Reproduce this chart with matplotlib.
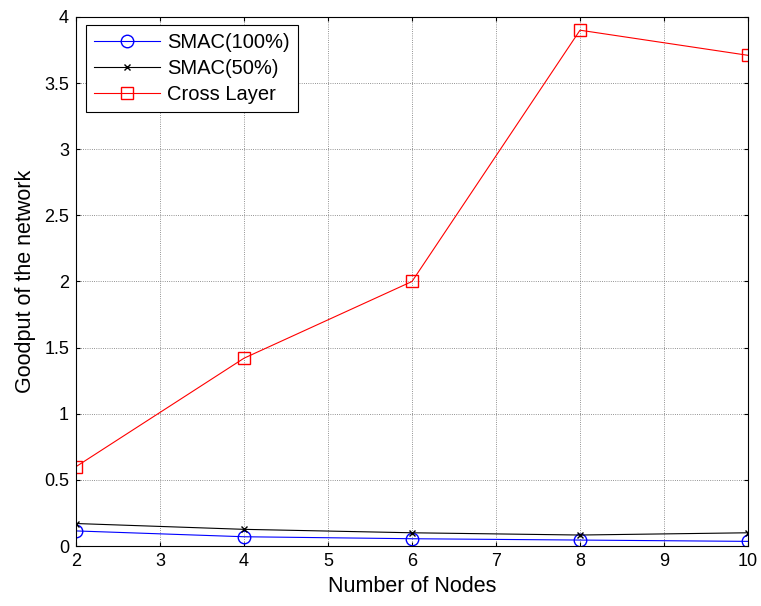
import matplotlib
matplotlib.use("Agg")
import matplotlib.pyplot as plt

plt.rcParams['font.family'] = ['Liberation Sans', 'DejaVu Sans']

nodes = [2, 4, 6, 8, 10]
smac100 = [0.114, 0.070, 0.055, 0.045, 0.035]
smac50 = [0.170, 0.126, 0.100, 0.083, 0.100]
cross_layer = [0.60, 1.42, 2.00, 3.90, 3.71]

fig = plt.figure(figsize=(7.61, 6.06), dpi=100)
ax = fig.add_axes([0.0999, 0.099, 0.883, 0.873])

ax.plot(nodes, smac100, color='blue', marker='o', markersize=9, markerfacecolor='none',
        linewidth=0.8, label='SMAC(100%)')
ax.plot(nodes, smac50, color='black', marker='x', markersize=5,
        linewidth=0.8, label='SMAC(50%)')
ax.plot(nodes, cross_layer, color='red', marker='s', markersize=9, markerfacecolor='none',
        linewidth=0.8, label='Cross Layer')

ax.set_xlim(2, 10)
ax.set_ylim(0, 4)
ax.set_xticks(range(2, 11))
ax.set_yticks([0, 0.5, 1, 1.5, 2, 2.5, 3, 3.5, 4])
ax.set_yticklabels(['0', '0.5', '1', '1.5', '2', '2.5', '3', '3.5', '4'])
ax.grid(True, color='#707070', linestyle=':', linewidth=0.6)
ax.tick_params(direction='in', top=True, right=True, labelsize=13, length=3, pad=5)
for s in ax.spines.values():
    s.set_linewidth(0.8)

ax.set_xlabel('Number of Nodes', fontsize=15.5, labelpad=4)
ax.set_ylabel('Goodput of the network', fontsize=15.5, labelpad=6)

leg = ax.legend(loc='upper left', bbox_to_anchor=(0.0145, 0.985), fontsize=14.5,
                fancybox=False, edgecolor='black', framealpha=1, handlelength=3.3,
                handletextpad=0.35, borderaxespad=0, labelspacing=0.35, borderpad=0.4)
leg.get_frame().set_linewidth(0.8)

fig.savefig('out.png', dpi=100)
